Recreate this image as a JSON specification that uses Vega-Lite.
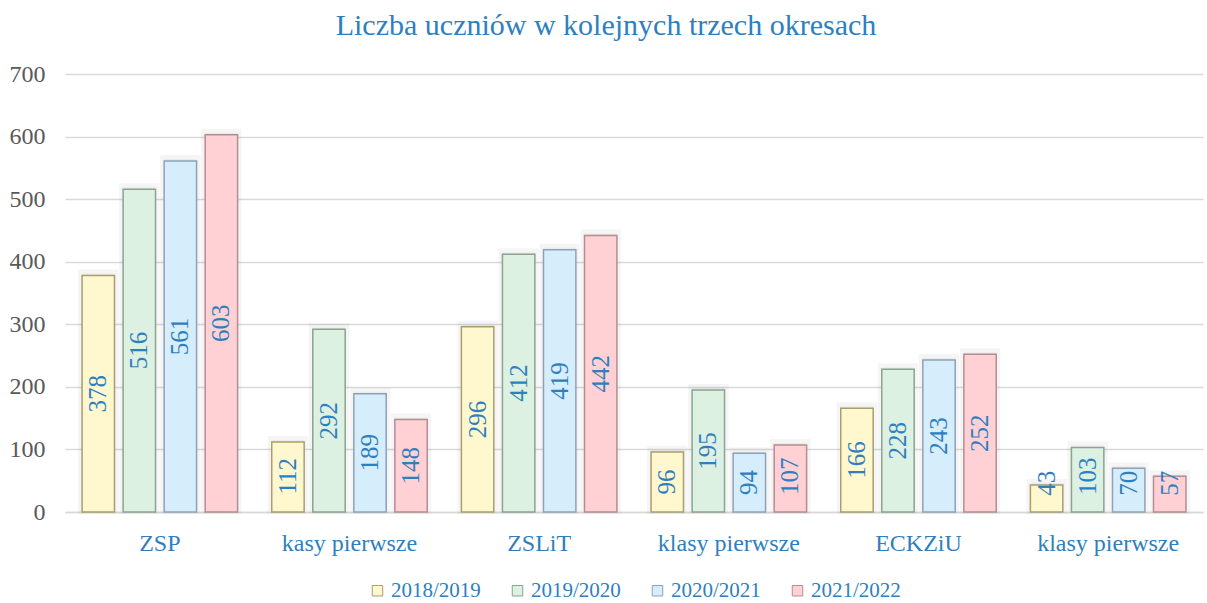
{
  "$schema": "https://vega.github.io/schema/vega-lite/v6.json",
  "width": 1207,
  "height": 603,
  "autosize": {"type": "fit", "contains": "padding"},
  "padding": {"left": 9, "right": 4, "top": 11, "bottom": 2},
  "background": "white",
  "config": {
    "view": {"stroke": null},
    "font": "Liberation Serif",
    "legend": {
      "orient": "bottom",
      "direction": "horizontal",
      "title": null,
      "labelFont": "Liberation Serif",
      "labelFontSize": 21,
      "labelColor": "#2E7FC0",
      "symbolType": "square",
      "symbolSize": 110,
      "symbolStrokeWidth": 1,
      "columnPadding": 26,
      "labelOffset": 3,
      "offset": 25,
      "layout": {"bottom": {"anchor": "middle"}}
    }
  },
  "title": {
    "text": "Liczba uczniów w kolejnych trzech okresach",
    "fontSize": 30,
    "font": "Liberation Serif",
    "fontWeight": "normal",
    "color": "#2E7FC0",
    "anchor": "middle",
    "frame": "bounds",
    "offset": 21
  },
  "data": {
    "values": [
      {"cat": "ZSP", "year": "2018/2019", "v": 378},
      {"cat": "ZSP", "year": "2019/2020", "v": 516},
      {"cat": "ZSP", "year": "2020/2021", "v": 561},
      {"cat": "ZSP", "year": "2021/2022", "v": 603},
      {"cat": "kasy pierwsze", "year": "2018/2019", "v": 112},
      {"cat": "kasy pierwsze", "year": "2019/2020", "v": 292},
      {"cat": "kasy pierwsze", "year": "2020/2021", "v": 189},
      {"cat": "kasy pierwsze", "year": "2021/2022", "v": 148},
      {"cat": "ZSLiT", "year": "2018/2019", "v": 296},
      {"cat": "ZSLiT", "year": "2019/2020", "v": 412},
      {"cat": "ZSLiT", "year": "2020/2021", "v": 419},
      {"cat": "ZSLiT", "year": "2021/2022", "v": 442},
      {"cat": "klasy pierwsze", "year": "2018/2019", "v": 96},
      {"cat": "klasy pierwsze", "year": "2019/2020", "v": 195},
      {"cat": "klasy pierwsze", "year": "2020/2021", "v": 94},
      {"cat": "klasy pierwsze", "year": "2021/2022", "v": 107},
      {"cat": "ECKZiU", "year": "2018/2019", "v": 166},
      {"cat": "ECKZiU", "year": "2019/2020", "v": 228},
      {"cat": "ECKZiU", "year": "2020/2021", "v": 243},
      {"cat": "ECKZiU", "year": "2021/2022", "v": 252},
      {"cat": "klasy pierwsze ", "year": "2018/2019", "v": 43},
      {"cat": "klasy pierwsze ", "year": "2019/2020", "v": 103},
      {"cat": "klasy pierwsze ", "year": "2020/2021", "v": 70},
      {"cat": "klasy pierwsze ", "year": "2021/2022", "v": 57}
    ]
  },
  "transform": [
    {"calculate": "max(datum.v / 2, datum.v < 100 ? 46 : 57)", "as": "lab"}
  ],
  "encoding": {
    "x": {
      "field": "cat",
      "type": "nominal",
      "sort": null,
      "scale": {"paddingInner": 0.18, "paddingOuter": 0.09},
      "axis": {
        "title": null,
        "labelAngle": 0,
        "labelFont": "Liberation Serif",
        "labelFontSize": 24,
        "labelColor": "#2E7FC0",
        "ticks": false,
        "domain": true,
        "domainColor": "#D9D9D9",
        "domainWidth": 1.5,
        "labelPadding": 19
      }
    },
    "xOffset": {
      "field": "year",
      "type": "nominal",
      "scale": {"paddingInner": 0.21, "paddingOuter": 0}
    }
  },
  "layer": [
    {
      "mark": {
        "type": "bar",
        "fill": "#000000",
        "fillOpacity": 0.04,
        "stroke": "#000000",
        "strokeOpacity": 0.04,
        "strokeWidth": 8,
        "xOffset": -4,
        "yOffset": -2
      },
      "encoding": {
        "y": {"field": "v", "type": "quantitative"}
      }
    },
    {
      "mark": {"type": "bar", "strokeWidth": 1.5},
      "encoding": {
        "y": {
          "field": "v",
          "type": "quantitative",
          "scale": {"domain": [0, 700], "nice": false},
          "axis": {
            "title": null,
            "values": [0, 100, 200, 300, 400, 500, 600, 700],
            "labelFont": "Liberation Serif",
            "labelFontSize": 24,
            "labelColor": "#595959",
            "gridColor": "#D9D9D9",
            "gridWidth": 1.5,
            "domain": false,
            "ticks": false,
            "labelPadding": 20
          }
        },
        "fill": {
          "field": "year",
          "type": "nominal",
          "scale": {"range": ["#FFF8CF", "#DCF1E1", "#D6EDFB", "#FFD1D5"]}
        },
        "stroke": {
          "field": "year",
          "type": "nominal",
          "scale": {"range": ["#A89E6E", "#8BA38F", "#8EA2B7", "#B58C90"]}
        }
      }
    },
    {
      "mark": {
        "type": "text",
        "angle": 270,
        "fontSize": 25,
        "font": "Liberation Serif",
        "color": "#2E7FC0",
        "baseline": "middle",
        "align": "center"
      },
      "encoding": {
        "y": {"field": "lab", "type": "quantitative"},
        "text": {"field": "v", "type": "quantitative"}
      }
    }
  ]
}
